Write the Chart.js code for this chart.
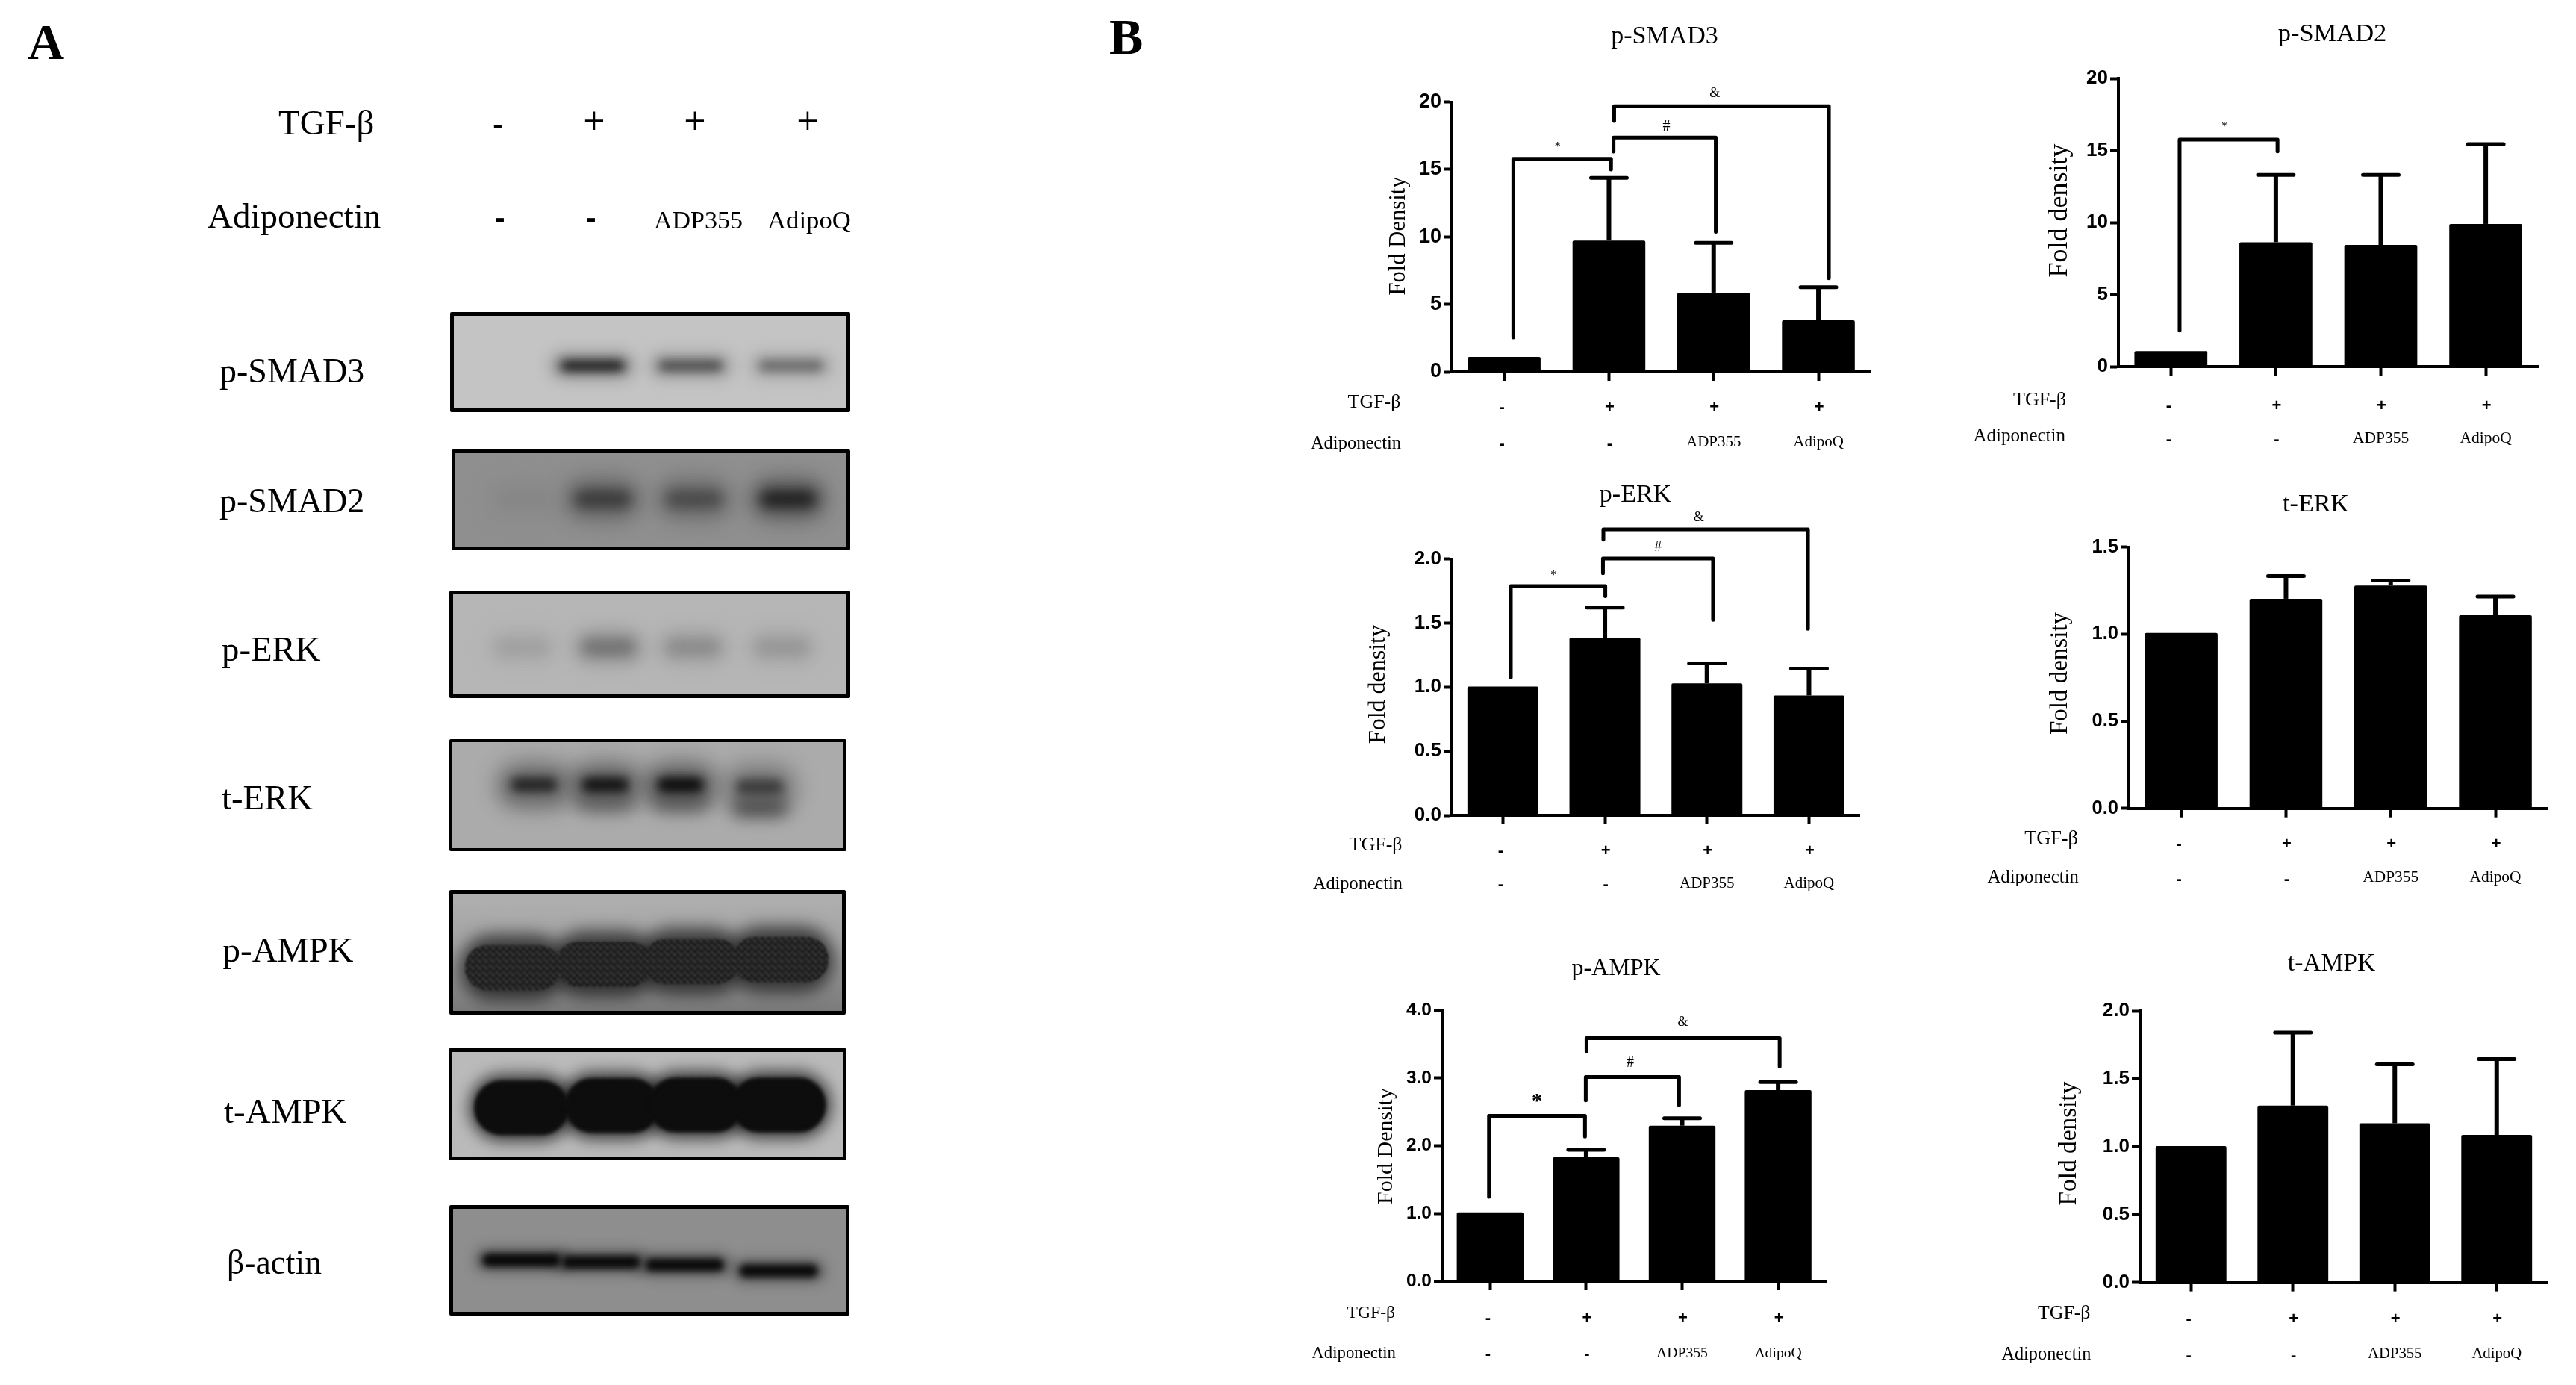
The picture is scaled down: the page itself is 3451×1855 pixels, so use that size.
<!DOCTYPE html>
<html>
<head>
<meta charset="utf-8">
<title>Western blot and densitometry</title>
<script src="https://cdn.jsdelivr.net/npm/chart.js@4"></script>
<style>
  html, body { margin:0; padding:0; background:#fff; width:3451px; height:1855px; overflow:hidden; }
  canvas { position:absolute; }
</style>
</head>
<body>
<canvas id="pageText" width="3451" height="1855" style="left:0;top:0"></canvas>
<script>
// densitometry values
const groups = ["control", "TGF-β", "TGF-β + ADP355", "TGF-β + AdipoQ"];
const tgfRow = ["-", "+", "+", "+"];
const adipoRow = ["-", "-", "ADP355", "AdipoQ"];

const pSmad3Values = [1.1, 9.73, 5.87, 3.82];
const pSmad3Errors = [null, 14.38, 9.56, 6.27];
const pSmad2Values = [1.08, 8.63, 8.44, 9.9];
const pSmad2Errors = [null, 13.3, 13.3, 15.44];
const pErkValues = [1.005, 1.385, 1.03, 0.935];
const pErkErrors = [null, 1.62, 1.185, 1.145];
const tErkValues = [1.007, 1.203, 1.279, 1.108];
const tErkErrors = [null, 1.333, 1.308, 1.215];
const pAmpkValues = [1.016, 1.83, 2.295, 2.82];
const pAmpkErrors = [null, 1.94, 2.405, 2.94];
const tAmpkValues = [1.004, 1.303, 1.172, 1.087];
const tAmpkErrors = [null, 1.84, 1.607, 1.645];

// significance brackets as [group position, value] runs
const pSmad3Brackets = [
  [[0.087, 2.55], [0.087, 15.78], [1.02, 15.78], [1.02, 15.0]],
  [[1.044, 16.33], [1.044, 17.36], [2.02, 17.36], [2.02, 10.38]],
  [[1.05, 18.6], [1.05, 19.69], [3.1, 19.69], [3.1, 6.93]]
];
const pSmad3Marks = [["*", 0.51, 16.67], ["#", 1.55, 18.18], ["&", 2.01, 20.6]];
const pSmad2Brackets = [
  [[0.083, 2.5], [0.083, 15.75], [1.016, 15.75], [1.016, 14.94]]
];
const pSmad2Marks = [["*", 0.51, 16.65]];
const pErkBrackets = [
  [[0.078, 1.075], [0.078, 1.788], [1.004, 1.788], [1.004, 1.71]],
  [[0.981, 1.889], [0.981, 2.004], [2.06, 2.004], [2.06, 1.525]],
  [[0.985, 2.15], [0.985, 2.23], [2.99, 2.23], [2.99, 1.454]]
];
const pErkMarks = [["*", 0.496, 1.873], ["#", 1.52, 2.094], ["&", 1.92, 2.323]];
const pAmpkBrackets = [
  [[-0.012, 1.245], [-0.012, 2.44], [0.988, 2.44], [0.988, 2.134]],
  [[0.996, 2.67], [0.996, 3.014], [1.968, 3.014], [1.968, 2.597]],
  [[1.004, 3.388], [1.004, 3.588], [3.016, 3.588], [3.016, 3.167]]
];
const pAmpkMarks = [["*", 0.488, 2.648], ["#", 1.46, 3.218], ["&", 2.008, 3.817]];

// blot bands: lane position and migration in % of the blot, darkness 0..1
const pSmad3Lanes = [14, 35.3, 60.3, 85.9];
const pSmad3Migration = [53.9, 53.9, 53.9, 53.9];
const pSmad3Darkness = [0, 0.95, 0.68, 0.52];
const pSmad2Lanes = [17.9, 37.7, 61, 85.1];
const pSmad2Migration = [49.1, 49.1, 49.1, 49.1];
const pSmad2Darkness = [0.06, 0.62, 0.52, 0.82];
const pErkLanes = [17.6, 39.5, 60.9, 83.6];
const pErkMigration = [52.8, 52.8, 52.8, 52.8];
const pErkDarkness = [0.14, 0.42, 0.27, 0.2];
const tErkLanes = [20.9, 39.1, 58.3, 78.6];
const tErkMigration = [40.4, 40.4, 40.4, 42.4];
const tErkDarkness = [0.8, 0.9, 0.95, 0.66];
const tErkLowerMigration = [48, 54, 54, 61];
const tErkLowerDarkness = [0.3, 0.45, 0.5, 0.58];
const pAmpkLanes = [15.4, 38.8, 61.2, 84.2];
const pAmpkMigration = [63.1, 60.1, 57.7, 56.2];
const pAmpkDarkness = [0.85, 0.85, 0.85, 0.85];
const tAmpkLanes = [17.7, 40.9, 62.3, 83.6];
const tAmpkMigration = [53.3, 51.3, 50.7, 50.7];
const tAmpkDarkness = [0.97, 0.97, 0.97, 0.97];
const actinLanes = [17.4, 37.7, 59, 82.9];
const actinMigration = [49.8, 51.8, 54.5, 60.2];
const actinDarkness = [0.95, 0.93, 0.93, 0.93];

const SERIF = '"Liberation Serif"';
const SANS = '"Liberation Sans"';

// ---- layout of panel B ----
const barPanels = [
  { title:"p-SMAD3", yTitle:"Fold Density", values:pSmad3Values, errors:pSmad3Errors, brackets:pSmad3Brackets, marks:pSmad3Marks,
    yMax:20, step:5, digits:0, ax:1945, yTop:136.6, y0:498, cw:140.3, tickFont:27,
    titleX:2230, titleY:58, titleFont:34, yTitleX:1874, yTitleY:316, yTitleFont:30.6,
    plusY:48, rowY:97, textY:100, smallFont:21, tgfRight:1876.5, tgfY:546, tgfFont:26, adipoRight:1877, adipoY:601, adipoFont:24.5 },
  { title:"p-SMAD2", yTitle:"Fold density", values:pSmad2Values, errors:pSmad2Errors, brackets:pSmad2Brackets, marks:pSmad2Marks,
    yMax:20, step:5, digits:0, ax:2837.5, yTop:105, y0:491, cw:140.6, tickFont:26,
    titleX:3124.5, titleY:55, titleFont:34.5, yTitleX:2760, yTitleY:282, yTitleFont:36,
    plusY:52.6, rowY:98, textY:102, smallFont:21.5, tgfRight:2768, tgfY:543, tgfFont:26, adipoRight:2767, adipoY:591, adipoFont:25 },
  { title:"p-ERK", yTitle:"Fold density", values:pErkValues, errors:pErkErrors, brackets:pErkBrackets, marks:pErkMarks,
    yMax:2, step:0.5, digits:1, ax:1944.5, yTop:748.6, y0:1092, cw:136.7, tickFont:26,
    titleX:2191, titleY:672, titleFont:34, yTitleX:1847, yTitleY:916.6, yTitleFont:32,
    plusY:48, rowY:93, textY:97, smallFont:21, tgfRight:1878.6, tgfY:1139, tgfFont:26, adipoRight:1879, adipoY:1190.6, adipoFont:24.3 },
  { title:"t-ERK", yTitle:"Fold density", values:tErkValues, errors:tErkErrors, brackets:[], marks:[],
    yMax:1.5, step:0.5, digits:1, ax:2852, yTop:732.6, y0:1082.7, cw:140.3, tickFont:25.5,
    titleX:3102.5, titleY:685, titleFont:34, yTitleX:2760, yTitleY:902, yTitleFont:33,
    plusY:48, rowY:95, textY:98, smallFont:21.4, tgfRight:2784, tgfY:1130.6, tgfFont:26.3, adipoRight:2785, adipoY:1182, adipoFont:24.8 },
  { title:"p-AMPK", yTitle:"Fold Density", values:pAmpkValues, errors:pAmpkErrors, brackets:pAmpkBrackets, marks:pAmpkMarks,
    yMax:4, step:1, digits:1, ax:1932, yTop:1353, y0:1716, cw:128.6, tickFont:24.5,
    titleX:2165, titleY:1306, titleFont:32, yTitleX:1857, yTitleY:1535, yTitleFont:30,
    plusY:50, rowY:98, textY:102, smallFont:19.7, tgfRight:1869, tgfY:1765, tgfFont:23.6, adipoRight:1870, adipoY:1819, adipoFont:22.8 },
  { title:"t-AMPK", yTitle:"Fold density", values:tAmpkValues, errors:tAmpkErrors, brackets:[], marks:[],
    yMax:2, step:0.5, digits:1, ax:2867, yTop:1354, y0:1717.6, cw:136.5, tickFont:26,
    titleX:3123.5, titleY:1300, titleFont:33.5, yTitleX:2772.5, yTitleY:1531.6, yTitleFont:33.4,
    plusY:49.5, rowY:98, textY:101, smallFont:20.7, tgfRight:2800.5, tgfY:1766, tgfFont:25.8, adipoRight:2801.5, adipoY:1821, adipoFont:24.3 }
];

function panelPlugin(p, left, top){
  return {
    id:"panelExtras",
    afterDatasetsDraw(chart){
      const ctx = chart.ctx;
      const x = chart.scales.x, y = chart.scales.y, xv = chart.scales.xv;
      const barMeta = chart.getDatasetMeta(0);

      // error bars
      ctx.save();
      ctx.strokeStyle = "#000";
      p.errors.forEach((err, i) => {
        if (err === null) return;
        const bx = barMeta.data[i].x;
        const ey = y.getPixelForValue(err);
        ctx.lineCap = "butt";
        ctx.lineWidth = 6;
        ctx.beginPath();
        ctx.moveTo(bx, y.getPixelForValue(p.values[i]));
        ctx.lineTo(bx, ey);
        ctx.stroke();
        ctx.lineCap = "round";
        ctx.lineWidth = 5;
        ctx.beginPath();
        ctx.moveTo(bx - 24, ey);
        ctx.lineTo(bx + 24, ey);
        ctx.stroke();
      });
      ctx.restore();

      ctx.save();
      ctx.fillStyle = "#000";
      ctx.textBaseline = "alphabetic";
      ctx.textAlign = "center";
      ctx.font = p.titleFont + "px " + SERIF;
      ctx.fillText(p.title, p.titleX - left, p.titleY - top);

      ctx.save();
      ctx.translate(p.yTitleX - left, p.yTitleY - top);
      ctx.rotate(-Math.PI / 2);
      ctx.font = p.yTitleFont + "px " + SERIF;
      ctx.textBaseline = "middle";
      ctx.fillText(p.yTitle, 0, 0);
      ctx.restore();

      ctx.textAlign = "right";
      ctx.font = p.tgfFont + "px " + SERIF;
      ctx.fillText("TGF-β", p.tgfRight - left, p.tgfY - top);
      ctx.font = p.adipoFont + "px " + SERIF;
      ctx.fillText("Adiponectin", p.adipoRight - left, p.adipoY - top);

      // the two treatment rows under the ticks
      const zero = y.getPixelForValue(0);
      ctx.textAlign = "center";
      groups.forEach((g, i) => {
        const tx = x.getPixelForValue(i);
        ctx.font = "bold 22px " + SANS;
        ctx.textBaseline = "middle";
        ctx.fillText(tgfRow[i], tx + (i === 0 ? -3 : 1), zero + p.plusY);
        if (adipoRow[i] === "-"){
          ctx.fillText("-", tx + (i === 0 ? -3 : 1), zero + p.rowY);
        } else {
          ctx.textBaseline = "alphabetic";
          ctx.font = p.smallFont + "px " + SERIF;
          ctx.fillText(adipoRow[i], tx, zero + p.textY);
        }
      });

      ctx.textBaseline = "middle";
      p.marks.forEach(m => {
        const bigStar = p.title === "p-AMPK";
        ctx.font = (m[0] === "*" ? (bigStar ? "bold 28" : "16") : m[0] === "&" ? "18" : "20") + "px " + SERIF;
        ctx.fillText(m[0], xv.getPixelForValue(m[1]), y.getPixelForValue(m[2]));
      });
      ctx.restore();
    }
  };
}

function drawBarPanel(p){
  const left = Math.round(p.ax - 210);
  const top = Math.round(p.titleY - 40);
  const width = Math.round(210 + 4 * p.cw + 12);
  const height = Math.round(p.y0 + 115 - top);
  const canvas = document.createElement("canvas");
  canvas.width = width;
  canvas.height = height;
  canvas.style.left = left + "px";
  canvas.style.top = top + "px";
  document.body.appendChild(canvas);

  const datasets = [{
    type:"bar",
    data:p.values,
    backgroundColor:"#000",
    grouped:false,
    barPercentage:0.695,
    categoryPercentage:1,
    borderRadius:2,
    borderSkipped:"bottom"
  }];
  p.brackets.forEach(b => {
    datasets.push({
      type:"line",
      xAxisID:"xv",
      data:b.map(pt => ({ x:pt[0], y:pt[1] })),
      borderColor:"#000",
      borderWidth:5,
      borderCapStyle:"round",
      borderJoinStyle:"round",
      pointRadius:0,
      tension:0,
      fill:false,
      clip:false
    });
  });

  new Chart(canvas, {
    data:{ labels:groups, datasets },
    options:{
      responsive:false,
      animation:false,
      devicePixelRatio:1,
      events:[],
      layout:{ padding:{ left:150, top:p.yTop - top, right:width - 210 - 4 * p.cw, bottom:height - (p.y0 - top) - 14 } },
      plugins:{ legend:{ display:false }, tooltip:{ enabled:false } },
      scales:{
        x:{
          type:"category",
          offset:true,
          afterFit(s){ s.height = 14; },
          border:{ color:"#000", width:4 },
          grid:{ offset:false, drawOnChartArea:false, drawTicks:true, tickLength:12, tickWidth:4, tickColor:"#000" },
          ticks:{ display:false }
        },
        xv:{ type:"linear", display:false, min:-0.5, max:3.5, offset:false },
        y:{
          min:0,
          max:p.yMax,
          afterFit(s){ s.width = 60; },
          border:{ color:"#000", width:4 },
          grid:{ drawOnChartArea:false, drawTicks:true, tickLength:11, tickWidth:4, tickColor:"#000" },
          ticks:{
            stepSize:p.step,
            color:"#000",
            padding:3,
            font:{ family:SANS, weight:"bold", size:p.tickFont },
            callback:v => v.toFixed(p.digits)
          }
        }
      }
    },
    plugins:[panelPlugin(p, left, top)]
  });
}

// ---- panel A blots, drawn as blurred floating bars ----
function speckle(base, dot, dots, size){
  const c = document.createElement("canvas");
  c.width = c.height = size;
  const g = c.getContext("2d");
  g.fillStyle = base;
  g.fillRect(0, 0, size, size);
  g.fillStyle = dot;
  dots.forEach(d => g.fillRect(d[0], d[1], 2, 2));
  return g.createPattern(c, "repeat");
}

const blots = [
  { left:603, top:418, right:1138.5, bottom:551.5, border:5, bg:"#c4c4c4", grey:196, lanes:pSmad3Lanes,
    layers:[ { mig:pSmad3Migration, dark:pSmad3Darkness, w:84, h:4.5, blur:7 } ], haloW:106, haloH:11, haloBlur:11, haloAlpha:0.4 },
  { left:604.5, top:602.4, right:1138.5, bottom:737, border:5, bg:"#8f8f8f", grey:143, lanes:pSmad2Lanes,
    layers:[ { mig:pSmad2Migration, dark:pSmad2Darkness, w:74, h:8, blur:9 } ], haloW:100, haloH:22, haloBlur:14, haloAlpha:0.45 },
  { left:602, top:791, right:1138.5, bottom:935, border:5, bg:"#b6b6b6", grey:182, lanes:pErkLanes,
    layers:[ { mig:pErkMigration, dark:pErkDarkness, w:68, h:6, blur:9 } ], haloW:92, haloH:16, haloBlur:12, haloAlpha:0.45 },
  { left:602, top:990.4, right:1134, bottom:1140.5, border:4, bg:"#ababab", grey:171, lanes:tErkLanes,
    layers:[
      { mig:tErkLowerMigration, dark:tErkLowerDarkness, w:74, h:8, blur:11 },
      { mig:tErkMigration, dark:tErkDarkness, w:62, h:6.5, blur:7 }
    ], haloW:96, haloH:20, haloBlur:15, haloAlpha:0.5 },
  { left:602, top:1192.4, right:1133, bottom:1359.8, border:5, bg:"linear-gradient(#b0b0b0,#a2a2a2 45%,#7a7a7a)", grey:150, lanes:pAmpkLanes,
    layers:[ { mig:pAmpkMigration, dark:pAmpkDarkness, w:128, h:19, blur:1.5, pattern:speckle("#191919", "#4e4e4e", [[0,1],[4,4],[7,0],[2,6],[6,7]], 9) } ],
    haloW:142, haloH:28, haloBlur:11, haloAlpha:0.75 },
  { left:601, top:1404, right:1133.5, bottom:1554, border:5, bg:"#bababa", grey:186, lanes:tAmpkLanes,
    layers:[ { mig:tAmpkMigration, dark:tAmpkDarkness, w:126, h:26, blur:2.5, pattern:speckle("#0a0a0a", "#2c2c2c", [[1,1],[6,5]], 10) } ],
    haloW:140, haloH:32, haloBlur:10, haloAlpha:0.7 },
  { left:602, top:1613.7, right:1137.6, bottom:1762, border:5, bg:"#8e8e8e", grey:142, lanes:actinLanes,
    layers:[ { mig:actinMigration, dark:actinDarkness, w:104, h:6, blur:5 } ], haloW:122, haloH:10, haloBlur:9, haloAlpha:0.45 }
];

const blurPlugin = {
  id:"bandBlur",
  beforeDatasetDraw(chart, args){
    chart.ctx.save();
    chart.ctx.filter = "blur(" + chart.data.datasets[args.index].blur + "px)";
  },
  afterDatasetDraw(chart){
    chart.ctx.restore();
  }
};

function drawBlot(b){
  const canvas = document.createElement("canvas");
  const width = Math.round(b.right - b.left - 2 * b.border);
  const height = Math.round(b.bottom - b.top - 2 * b.border);
  canvas.width = width;
  canvas.height = height;
  canvas.style.left = b.left + "px";
  canvas.style.top = b.top + "px";
  canvas.style.boxSizing = "content-box";
  canvas.style.border = b.border + "px solid #000";
  canvas.style.borderRadius = "2px";
  canvas.style.background = b.bg;
  document.body.appendChild(canvas);

  const tone = (d, a) => {
    const v = Math.round(b.grey * (1 - d));
    return "rgba(" + v + "," + v + "," + v + "," + a + ")";
  };
  const band = (mig, h) => b.lanes.map((l, i) => ({ x:l, y:[mig[i] - h, mig[i] + h] }));
  const shared = { grouped:false, borderSkipped:false, borderWidth:0 };

  const datasets = [];
  b.layers.slice().reverse().forEach(l => {
    datasets.push(Object.assign({}, shared, {
      data:band(l.mig, l.h),
      barThickness:l.w,
      borderRadius:l.w / 2.4,
      blur:l.blur,
      backgroundColor:l.dark.map(d => l.pattern && d > 0 ? l.pattern : tone(d, d > 0 ? 1 : 0))
    }));
  });
  const haloMig = b.layers[b.layers.length - 1].mig;
  const haloDark = b.layers[b.layers.length - 1].dark;
  datasets.push(Object.assign({}, shared, {
    data:band(haloMig, b.haloH),
    barThickness:b.haloW,
    borderRadius:b.haloW / 2.4,
    blur:b.haloBlur,
    backgroundColor:haloDark.map(d => tone(d, d > 0 ? b.haloAlpha : 0))
  }));

  new Chart(canvas, {
    type:"bar",
    data:{ datasets },
    options:{
      responsive:false,
      animation:false,
      devicePixelRatio:1,
      events:[],
      plugins:{ legend:{ display:false }, tooltip:{ enabled:false } },
      scales:{
        x:{ type:"linear", display:false, min:0, max:100, offset:false },
        y:{ type:"linear", display:false, min:0, max:100, reverse:true }
      }
    },
    plugins:[blurPlugin]
  });
}

// ---- page level text ----
function drawPageText(){
  const ctx = document.getElementById("pageText").getContext("2d");
  const put = (text, x, y, font, align) => {
    ctx.font = font;
    ctx.textAlign = align || "left";
    ctx.fillText(text, x, y);
  };
  ctx.fillStyle = "#000";
  put("A", 37, 79, "bold 68px " + SERIF);
  put("B", 1486, 72, "bold 68px " + SERIF);
  put("TGF-β", 373, 180, "47px " + SERIF);
  put("Adiponectin", 278, 305, "47px " + SERIF);
  put("-", 667, 180, "bold 40px " + SANS, "center");
  put("-", 670, 305, "bold 40px " + SANS, "center");
  put("-", 792, 305, "bold 40px " + SANS, "center");
  [796, 931, 1082].forEach(x => put("+", x, 179, "52px " + SERIF, "center"));
  put("ADP355", 876, 306, "34px " + SERIF);
  put("AdipoQ", 1028, 306, "34.7px " + SERIF);
  put("p-SMAD3", 294, 512, "46px " + SERIF);
  put("p-SMAD2", 294, 686, "46px " + SERIF);
  put("p-ERK", 297, 885, "46.8px " + SERIF);
  put("t-ERK", 297, 1084, "46.7px " + SERIF);
  put("p-AMPK", 298.5, 1287.6, "47px " + SERIF);
  put("t-AMPK", 300, 1504, "47px " + SERIF);
  put("β-actin", 304, 1706, "45.6px " + SERIF);
}

drawPageText();
blots.forEach(drawBlot);
barPanels.forEach(drawBarPanel);
</script>
</body>
</html>
